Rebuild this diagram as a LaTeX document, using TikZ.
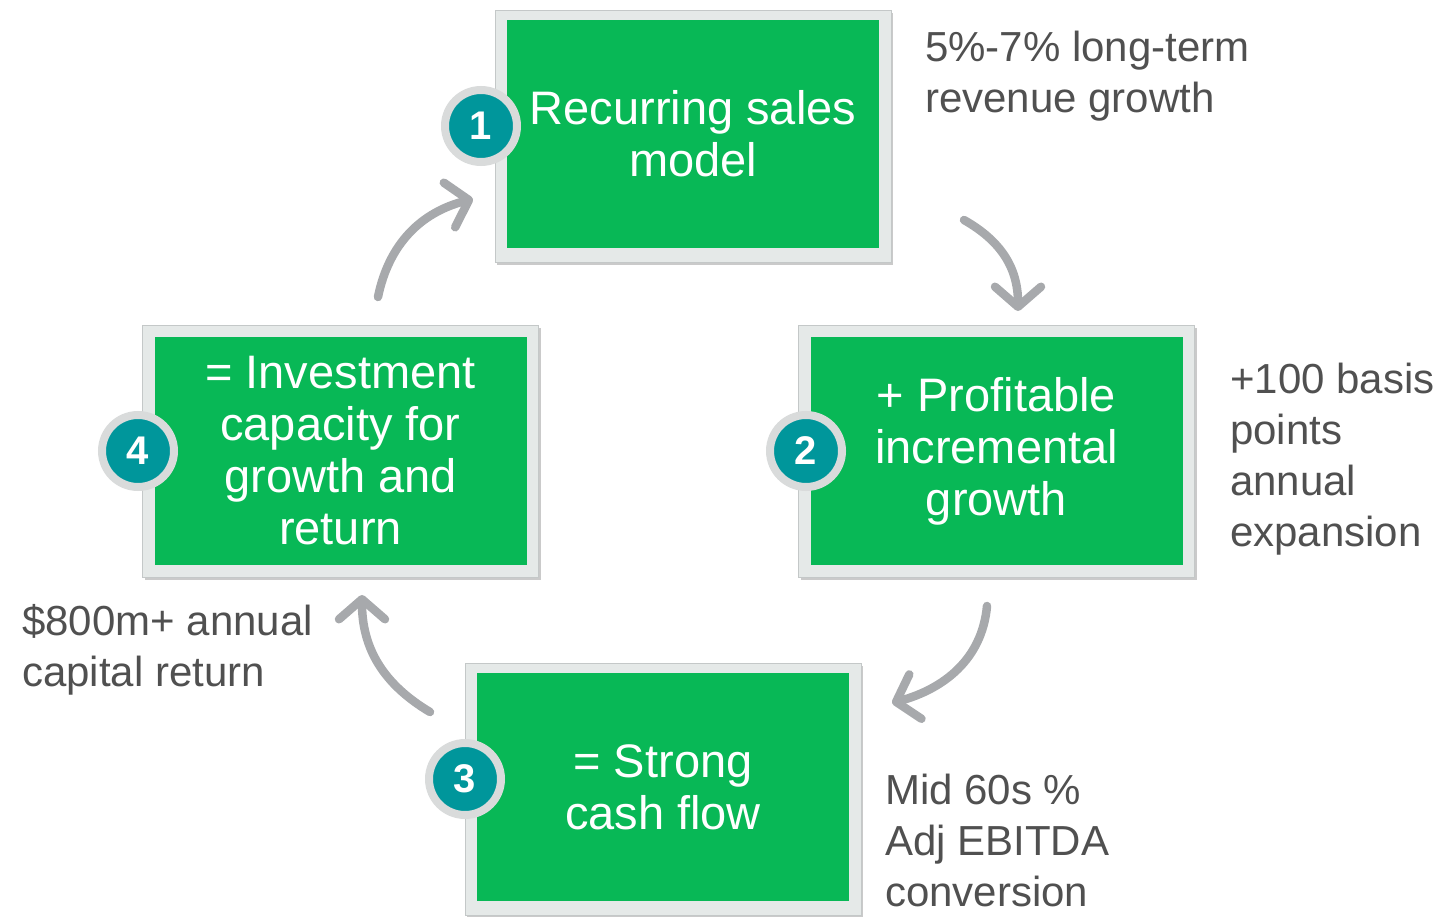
\documentclass[tikz,border=0pt]{standalone}
\usepackage{fontspec}
\setmainfont{Liberation Sans}
\usetikzlibrary{arrows.meta,shadows}
\definecolor{boxgreen}{RGB}{8,184,86}
\definecolor{framefill}{RGB}{229,233,232}
\definecolor{frameedge}{RGB}{196,200,200}
\definecolor{badgeteal}{RGB}{0,150,155}
\definecolor{ringgrey}{RGB}{217,219,219}
\definecolor{arrowgrey}{RGB}{167,169,172}
\definecolor{sidegrey}{RGB}{80,80,80}
\begin{document}
\begin{tikzpicture}[x=1pt,y=-1pt,
  outerbox/.style={draw=frameedge, line width=0.8pt, fill=framefill,
    minimum width=396pt, minimum height=252pt, inner sep=0pt,
    drop shadow={shadow xshift=2pt, shadow yshift=-3pt, opacity=0.35, fill=black!60}},
  greenbox/.style={fill=boxgreen, minimum width=372pt, minimum height=228pt,
    inner sep=0pt, text=white, align=center, font=\fontsize{47}{52}\selectfont},
  badge/.style={circle, fill=badgeteal, draw=ringgrey, line width=8pt,
    minimum size=72pt, inner sep=0pt, text=white,
    font=\bfseries\fontsize{40}{40}\selectfont},
  sidetext/.style={anchor=base west, align=left, inner sep=0pt, text=sidegrey,
    font=\fontsize{42}{51}\selectfont},
  cyclearrow/.style={draw=arrowgrey, line width=8.5pt, line cap=round,
    -{Straight Barb[length=20pt, width=46pt, round]}}
]
\useasboundingbox (0,0) rectangle (1445,917);

% boxes
\node[outerbox] (b1o) at (693,136) {};
\node[greenbox] (b1) at (693,134) {Recurring sales\\model};
\node[outerbox] (b2o) at (996.5,451) {};
\node[greenbox] (b2) at (996.5,451) {+ Profitable\\incremental\\growth};
\node[outerbox] (b3o) at (663,789) {};
\node[greenbox] (b3) at (663,787) {= Strong\\cash flow};
\node[outerbox] (b4o) at (340.5,451) {};
\node[greenbox] (b4) at (340.5,451) {= Investment\\capacity for\\growth and\\return};

% badges
\node[badge] (n1) at (481,126) {1};
\node[badge] (n2) at (806,451) {2};
\node[badge] (n3) at (465,779) {3};
\node[badge] (n4) at (138,451) {4};

% side texts (anchored at the baseline of the last line)
\node[sidetext] (t1) at (925,113) {5\%-7\% long-term\\revenue growth};
\node[sidetext] (t2) at (1230,546) {+100 basis\\points\\annual\\expansion};
\node[sidetext] (t3) at (885,906) {Mid 60s \%\\Adj EBITDA\\conversion};
\node[sidetext] (t4) at (22,686) {\$800m+ annual\\capital return};

% arrows
\coordinate (a1s) at (378,297);
\coordinate (a1e) at (473,199);
\coordinate (a2s) at (964,220);
\coordinate (a2e) at (1018,311);
\coordinate (a3s) at (987,606);
\coordinate (a3e) at (892,703);
\coordinate (a4s) at (430,712);
\coordinate (a4e) at (362,595);
\draw[cyclearrow] (a1s) .. controls (389,243) and (422,212) .. (a1e);
\draw[cyclearrow] (a2s) .. controls (1001,241) and (1018,268) .. (a2e);
\draw[cyclearrow] (a3s) .. controls (982,660) and (943,689) .. (a3e);
\draw[cyclearrow] (a4s) .. controls (383,684) and (362,648) .. (a4e);
\end{tikzpicture}
\end{document}
